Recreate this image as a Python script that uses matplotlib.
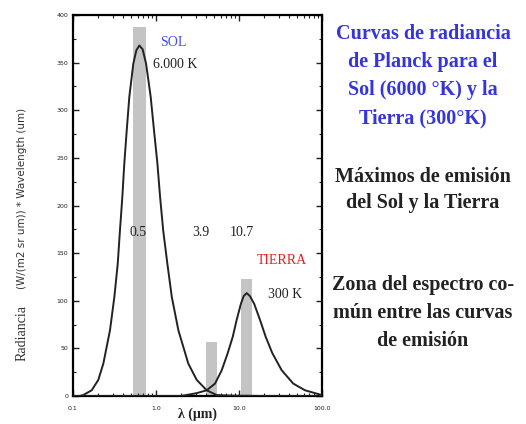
import numpy as np
import matplotlib.pyplot as plt
from matplotlib.ticker import FixedLocator, LogLocator, NullFormatter, MultipleLocator

# Curva del Sol (6000 K): longitud de onda (um) y radiancia
sol_lambda = [0.10, 0.120, 0.133, 0.168, 0.202, 0.232, 0.279, 0.315, 0.346, 0.368,
              0.393, 0.415, 0.444, 0.477, 0.533, 0.58, 0.630, 0.69, 0.759, 0.863,
              0.946, 1.04, 1.12, 1.22, 1.37, 1.55, 1.86, 2.45, 3.09, 4.08,
              5.38, 8.5, 20.0, 100.0]
sol_rad = [0, 0, 1, 6, 17, 34, 69, 104, 139, 174,
           209, 244, 279, 314, 349, 363, 368, 364, 349, 314,
           279, 244, 209, 174, 139, 104, 69, 34, 17, 6,
           1, 0.3, 0, 0]

# Curva de la Tierra (300 K)
tierra_lambda = [0.10, 2.0, 3.09, 4.08, 5.14, 6.19, 7.31, 8.40, 9.38, 10.56,
                 11.4, 12.4, 13.5, 15.2, 17.9, 21.0, 25.2, 32.7, 45.1, 62.4,
                 94.6, 100.0]
tierra_rad = [0, 0, 3, 6, 13, 27, 45, 62, 80, 97,
              105, 108, 105, 97, 80, 62, 45, 27, 13, 6,
              1.5, 1]

# Barras de los maximos y la zona comun
barras_lambda = [0.633, 4.66, 12.3]
barras_alto = [387, 57, 123]
barras_ancho = [0.157, 0.133, 0.133]  # en decadas

etiquetas_lambda = ['0.5', '3.9', '10.7']

x_ticks = [0.1, 1.0, 10.0, 100.0]
x_tick_labels = ['0.1', '1.0', '10.0', '100.0']
y_ticks = [0, 50, 100, 150, 200, 250, 300, 350, 400]

W, H = 526, 424
fig = plt.figure(figsize=(W / 100, H / 100), dpi=100)
ax = fig.add_axes([73 / W, 1 - 396 / H, (322 - 73) / W, (396 - 15) / H])

# barras en escala log: borde izquierdo y ancho a partir del centro
for c, h, w in zip(barras_lambda, barras_alto, barras_ancho):
    left = c / 10 ** (w / 2)
    right = c * 10 ** (w / 2)
    ax.bar(left, h, width=right - left, align='edge', color='#c4c4c4', edgecolor='none', zorder=1)

ax.plot(sol_lambda, sol_rad, color='#222222', lw=1.4, zorder=3)
ax.plot(tierra_lambda, tierra_rad, color='#222222', lw=1.4, zorder=3)

ax.set_xscale('log')
ax.set_xlim(0.1, 100)
ax.set_ylim(0, 400)
ax.xaxis.set_major_locator(FixedLocator(x_ticks))
ax.set_xticklabels(x_tick_labels)
ax.xaxis.set_minor_locator(LogLocator(base=10, subs=np.arange(2, 10)))
ax.xaxis.set_minor_formatter(NullFormatter())
ax.set_yticks(y_ticks)
ax.yaxis.set_minor_locator(MultipleLocator(25))
ax.tick_params(which='both', direction='in', top=True, right=True, labelsize=4.5, colors='#222222')
ax.tick_params(which='major', length=4, width=1)
ax.tick_params(which='minor', length=2, width=0.8)
ax.tick_params(axis='x', pad=7)
for s in ax.spines.values():
    s.set_linewidth(1.6)

serif = 'Liberation Serif'

# textos dentro del grafico (coordenadas de figura en pixeles)
def fx(px):
    return px / W

def fy(py):
    return 1 - py / H

fig.text(fx(173), fy(42), 'SOL', color='#4a4ae6', fontsize=10, family=serif, ha='center', va='center')
fig.text(fx(153), fy(65), '6.000 K', color='#222222', fontsize=10, family=serif, ha='left', va='center')
for px, t in zip([138, 201, 242], etiquetas_lambda):
    fig.text(fx(px), fy(233), t, color='#222222', fontsize=10, family=serif, ha='center', va='center')
fig.text(fx(282), fy(260), 'TIERRA', color='#e02020', fontsize=10, family=serif, ha='center', va='center')
fig.text(fx(285), fy(295), '300 K', color='#222222', fontsize=10, family=serif, ha='center', va='center')

# ejes
fig.text(fx(22), fy(333), 'Radiancia', rotation=90, fontsize=10, family=serif,
         color='#333333', ha='center', va='center')
fig.text(fx(22), fy(198), '(W/(m2 sr um)) * Wavelength (um)', rotation=90, fontsize=7.5,
         color='#333333', ha='center', va='center')
fig.text(fx(198), fy(414), 'λ (μm)', fontsize=10, family=serif, weight='bold',
         color='#222222', ha='center', va='center')

# textos de la derecha
fig.text(fx(423), fy(76), 'Curvas de radiancia\nde Planck para el\nSol (6000 °K) y la\nTierra (300°K)',
         color='#3535e0', fontsize=14.5, family=serif, weight='bold', ha='center', va='center',
         multialignment='center', linespacing=1.55)
fig.text(fx(423), fy(190), 'Máximos de emisión\ndel Sol y la Tierra',
         color='#222222', fontsize=14.5, family=serif, weight='bold', ha='center', va='center',
         multialignment='center', linespacing=1.43)
fig.text(fx(423), fy(313), 'Zona del espectro co-\nmún entre las curvas\nde emisión',
         color='#222222', fontsize=14.5, family=serif, weight='bold', ha='center', va='center',
         multialignment='center', linespacing=1.55)

fig.savefig('out.png', dpi=100)
